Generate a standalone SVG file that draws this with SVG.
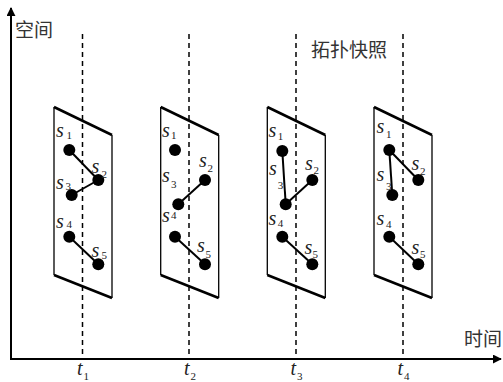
<svg xmlns="http://www.w3.org/2000/svg" width="503" height="382" viewBox="0 0 503 382">
<style>
.ax{stroke:#000;stroke-width:2;fill:none}
.dash{stroke:#000;stroke-width:1.5;stroke-dasharray:5 4;fill:none}
.pt{stroke:#000;stroke-width:2.6;fill:none}
.ps{stroke:#000;stroke-width:1.3;fill:none}
.e{stroke:#000;stroke-width:2;fill:none}
.dot{fill:#000}
.s{font-family:"Liberation Serif","DejaVu Serif",serif;font-style:italic;font-size:20px;fill:#222}
.n{font-family:"Liberation Serif","DejaVu Serif",serif;font-size:11px;fill:#222}
.cj{font-family:"Noto Sans CJK SC",sans-serif;font-size:19px;fill:#333}
</style>
<defs>
<marker id="ah" viewBox="0 0 10 10" refX="9" refY="5" markerWidth="4.5" markerHeight="4.5" orient="auto" markerUnits="strokeWidth">
<path d="M0,0 L10,5 L0,10 z" fill="#000"/>
</marker>
</defs>
<g id="axes">
<line class="ax" x1="11" y1="360" x2="11" y2="8" marker-end="url(#ah)"/>
<line class="ax" x1="10" y1="359" x2="501" y2="359" marker-end="url(#ah)"/>
<text class="cj" x="15" y="37">空间</text>
<text class="cj" x="464" y="346">时间</text>
<text class="cj" x="311" y="57">拓扑快照</text>
</g>
<g id="timelines">
<line class="dash" x1="82.5" y1="34" x2="82.5" y2="355"/>
<line class="dash" x1="189" y1="34" x2="189" y2="355"/>
<line class="dash" x1="296" y1="34" x2="296" y2="355"/>
<line class="dash" x1="403" y1="34" x2="403" y2="355"/>
<text class="s" x="77" y="375">t</text><text class="n" x="83.5" y="380">1</text>
<text class="s" x="184" y="375">t</text><text class="n" x="190.5" y="380">2</text>
<text class="s" x="290.5" y="375">t</text><text class="n" x="297" y="380">3</text>
<text class="s" x="397.5" y="375">t</text><text class="n" x="404" y="380">4</text>
</g>
<g id="connectors">
<line class="e" x1="69.3" y1="150" x2="98.3" y2="180"/>
<line class="e" x1="98.3" y1="180" x2="71.7" y2="195"/>
<line class="e" x1="69.3" y1="236.7" x2="98.3" y2="264.3"/>
<line class="e" x1="205" y1="180" x2="178.3" y2="204.3"/>
<line class="e" x1="175" y1="236.7" x2="205" y2="264.3"/>
<line class="e" x1="282.3" y1="151" x2="285.7" y2="204.3"/>
<line class="e" x1="285.7" y1="204.3" x2="312.3" y2="180"/>
<line class="e" x1="282.3" y1="236.7" x2="312.3" y2="264.3"/>
<line class="e" x1="389.3" y1="150" x2="392.3" y2="195"/>
<line class="e" x1="389.3" y1="150" x2="418.3" y2="180"/>
<line class="e" x1="389.3" y1="236.7" x2="418.3" y2="264.3"/>
</g>
<g id="snapshot1">
<line class="pt" x1="54" y1="107" x2="112" y2="135"/>
<line class="pt" x1="54" y1="275" x2="112" y2="298"/>
<line class="ps" x1="54" y1="107" x2="54" y2="275"/>
<line class="ps" x1="112" y1="135" x2="112" y2="298"/>
<circle class="dot" cx="69.3" cy="150" r="6"/>
<circle class="dot" cx="98.3" cy="180" r="6"/>
<circle class="dot" cx="71.7" cy="195" r="6"/>
<circle class="dot" cx="69.3" cy="236.7" r="6"/>
<circle class="dot" cx="98.3" cy="264.3" r="6"/>
<text class="s" x="56" y="136.5">s</text><text class="n" x="66.5" y="138.5">1</text>
<text class="s" x="91.5" y="173">s</text><text class="n" x="101.5" y="178">2</text>
<text class="s" x="56" y="189">s</text><text class="n" x="65.5" y="190">3</text>
<text class="s" x="56" y="228">s</text><text class="n" x="66.5" y="227.5">4</text>
<text class="s" x="91.5" y="256.5">s</text><text class="n" x="101.5" y="258.5">5</text>
</g>
<g id="snapshot2">
<line class="pt" x1="160.7" y1="107" x2="218.7" y2="135"/>
<line class="pt" x1="160.7" y1="275" x2="218.7" y2="298"/>
<line class="ps" x1="160.7" y1="107" x2="160.7" y2="275"/>
<line class="ps" x1="218.7" y1="135" x2="218.7" y2="298"/>
<circle class="dot" cx="175" cy="150" r="6"/>
<circle class="dot" cx="205" cy="180" r="6"/>
<circle class="dot" cx="178.3" cy="204.3" r="6"/>
<circle class="dot" cx="175" cy="236.7" r="6"/>
<circle class="dot" cx="205" cy="264.3" r="6"/>
<text class="s" x="162" y="136.5">s</text><text class="n" x="171" y="138.5">1</text>
<text class="s" x="199" y="166.5">s</text><text class="n" x="207.5" y="171.5">2</text>
<text class="s" x="162" y="181.5">s</text><text class="n" x="171" y="188">3</text>
<text class="s" x="162" y="221.5">s</text><text class="n" x="171" y="218.5">4</text>
<text class="s" x="197" y="251.5">s</text><text class="n" x="205.5" y="258">5</text>
</g>
<g id="snapshot3">
<line class="pt" x1="267.3" y1="107" x2="325.3" y2="135"/>
<line class="pt" x1="267.3" y1="275" x2="325.3" y2="298"/>
<line class="ps" x1="267.3" y1="107" x2="267.3" y2="275"/>
<line class="ps" x1="325.3" y1="135" x2="325.3" y2="298"/>
<circle class="dot" cx="282.3" cy="151" r="6"/>
<circle class="dot" cx="312.3" cy="180" r="6"/>
<circle class="dot" cx="285.7" cy="204.3" r="6"/>
<circle class="dot" cx="282.3" cy="236.7" r="6"/>
<circle class="dot" cx="312.3" cy="264.3" r="6"/>
<text class="s" x="268.5" y="136.7">s</text><text class="n" x="277.7" y="140">1</text>
<text class="s" x="305" y="170">s</text><text class="n" x="313.5" y="173.5">2</text>
<text class="s" x="269" y="174.5">s</text><text class="n" x="277.7" y="189">3</text>
<text class="s" x="268.5" y="225">s</text><text class="n" x="277.7" y="226.7">4</text>
<text class="s" x="304.5" y="254.3">s</text><text class="n" x="312.5" y="258.3">5</text>
</g>
<g id="snapshot4">
<line class="pt" x1="374" y1="107" x2="432" y2="135"/>
<line class="pt" x1="374" y1="275" x2="432" y2="298"/>
<line class="ps" x1="374" y1="107" x2="374" y2="275"/>
<line class="ps" x1="432" y1="135" x2="432" y2="298"/>
<circle class="dot" cx="389.3" cy="150" r="6"/>
<circle class="dot" cx="418.3" cy="180" r="6"/>
<circle class="dot" cx="392.3" cy="195" r="6"/>
<circle class="dot" cx="389.3" cy="236.7" r="6"/>
<circle class="dot" cx="418.3" cy="264.3" r="6"/>
<text class="s" x="376.5" y="133.3">s</text><text class="n" x="386" y="138.3">1</text>
<text class="s" x="411.5" y="170">s</text><text class="n" x="420" y="175">2</text>
<text class="s" x="376.5" y="181">s</text><text class="n" x="386" y="190">3</text>
<text class="s" x="376.5" y="225">s</text><text class="n" x="386" y="228.3">4</text>
<text class="s" x="411.5" y="254.3">s</text><text class="n" x="420" y="258.3">5</text>
</g>
</svg>
